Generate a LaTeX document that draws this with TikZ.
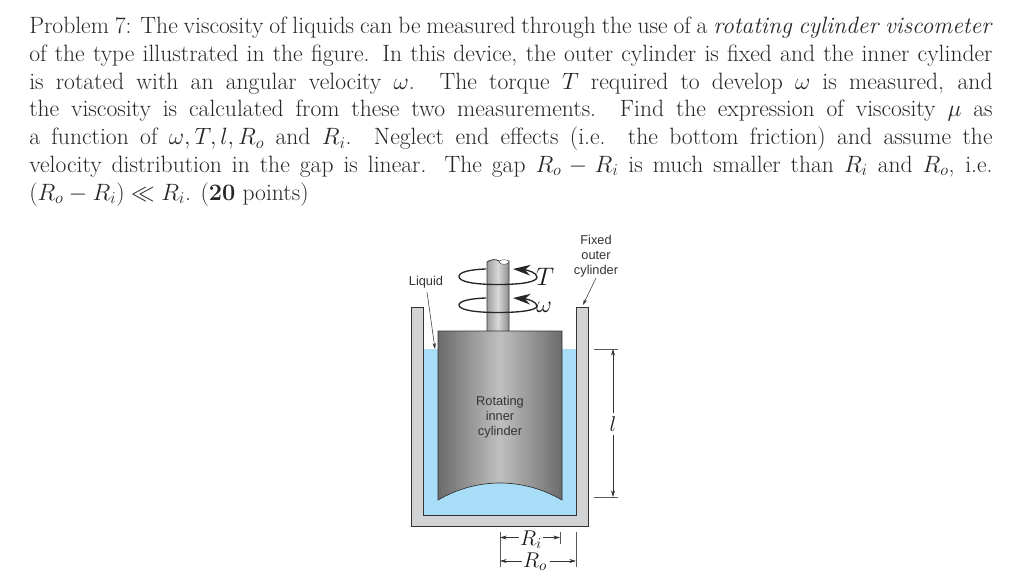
\documentclass[tikz,border=0pt]{standalone}
\usepackage{fontspec}
\usepackage{fix-cm}
\usetikzlibrary{arrows.meta}
\newfontfamily\labfont{Liberation Sans}
\newcommand{\fitline}[1]{\makebox[722.5pt][s]{#1}}
\definecolor{wallgray}{HTML}{D1D3D4}
\definecolor{liquidblue}{HTML}{A8DDF8}
\definecolor{outline}{HTML}{333333}
\definecolor{labelgray}{HTML}{333333}
\tikzset{
  textline/.style={anchor=base west,inner sep=0pt,font=\fontsize{17.7}{20}\selectfont,text=black!85},
  lab/.style={align=center,inner sep=0pt,font=\labfont\fontsize{9.6}{11.3}\selectfont,text=labelgray},
  wall/.style={fill=wallgray,draw=outline,line width=0.5pt},
  ring/.style={draw=black!85,line width=1pt,-{Stealth[length=13pt,width=8pt,inset=4pt]}},
  leader/.style={draw=outline,line width=0.4pt,-{Stealth[length=4.5pt,width=2.6pt]}},
  dimline/.style={draw=gray!70!black,line width=0.5pt},
  dimarrow/.style={draw=outline,line width=0.45pt,-{Stealth[length=5pt,width=3pt]}},
  mathlab/.style={inner sep=0pt,font=\fontsize{16}{19}\selectfont,text=black!90},
}
\begin{document}
\begin{tikzpicture}[x=0.75pt,y=-0.75pt]
\useasboundingbox (0,0) rectangle (1024,585);
% text
\node[textline] (t1) at (29,34) {\fitline{Problem 7: The viscosity of liquids can be measured through the use of a \textit{rotating cylinder viscometer}}};
\node[textline] (t2) at (29,62) {\fitline{of the type illustrated in the figure. In this device, the outer cylinder is fixed and the inner cylinder}};
\node[textline] (t3) at (29,89.5) {\fitline{is rotated with an angular velocity $\omega$. The torque $T$ required to develop $\omega$ is measured, and}};
\node[textline] (t4) at (29,117) {\fitline{the viscosity is calculated from these two measurements. Find the expression of viscosity $\mu$ as}};
\node[textline] (t5) at (29,144.5) {\fitline{a function of $\omega,T,l,R_o$ and $R_i$. Neglect end effects (i.e. the bottom friction) and assume the}};
\node[textline] (t6) at (29,172) {\fitline{velocity distribution in the gap is linear. The gap $R_o-R_i$ is much smaller than $R_i$ and $R_o$, i.e.}};
\node[textline] (t7) at (29,200) {$(R_o-R_i)\ll R_i$. (\textbf{20} points)};
% container
\path[wall] (411,307) -- (423,307) -- (423,515) -- (576,515) -- (576,307) -- (588,307) -- (588,526) -- (411,526) -- cycle;
\fill[liquidblue] (423.3,349) rectangle (575.7,514.7);
\draw[outline,line width=0.5pt] (423,349) -- (423,515) -- (576,515) -- (576,349);
% shaft
\path[left color=black!38,right color=black!45,middle color=black!15,draw=outline,line width=0.6pt]
  (487,332) -- (487,262) .. controls (491,259) and (496,259) .. (499,261) .. controls (503,264) and (506,263) .. (509,261) -- (509,332) -- cycle;
\fill[white,draw=outline,line width=0.3pt] (504,262) ellipse (5 and 2.3);
% rings
\draw[ring] (486,269) .. controls (470,269.5) and (459,272) .. (459,276.5) .. controls (459,282) and (475,284.5) .. (498,284.5) .. controls (522,284.5) and (537,282) .. (537,277) .. controls (537,273) and (528,270) .. (513,269);
\draw[ring] (486,298) .. controls (470,298.5) and (459,301) .. (459,305) .. controls (459,310) and (475,312.5) .. (498,312.5) .. controls (522,312.5) and (537,310) .. (537,306) .. controls (537,302) and (528,299) .. (513,298);
% inner cylinder
\path[left color=black!58,right color=black!58,middle color=black!25,draw=outline,line width=0.5pt]
  (438,331) -- (562,331) -- (562,500) .. controls (543,489) and (522,483) .. (500,483) .. controls (478,483) and (457,489) .. (438,500) -- cycle;
% labels
\node[lab] (liq) at (426,282) {Liquid};
\node[lab] (fix) at (596,256) {Fixed\\outer\\cylinder};
\node[lab] (rot) at (500,417) {Rotating\\inner\\cylinder};
\node[mathlab,font=\fontsize{19}{22}\selectfont] (T) at (545,277) {$T$};
\node[mathlab,font=\fontsize{18}{22}\selectfont] (w) at (544,307) {$\omega$};
\coordinate (liqtip) at (435,349);
\coordinate (fixtip) at (583,305);
\draw[leader] (427,292) -- (liqtip);
\draw[leader] (596,278) -- (fixtip);
% l dimension
\coordinate (ltop) at (613,349);
\coordinate (lbot) at (613,497);
\node[mathlab] (ell) at (613,424) {$l$};
\draw[dimline] (594,349) -- (618,349);
\draw[dimline] (594,497) -- (618,497);
\draw[dimarrow] (ell) ++(0,-11) -- (ltop);
\draw[dimarrow] (ell) ++(0,11) -- (lbot);
% R dimensions
\draw[dimline] (500,532) -- (500,567);
\draw[dimline] (560,532) -- (560,544);
\draw[dimline] (576,532) -- (576,567);
\coordinate (ril) at (500,537.5);
\coordinate (rir) at (560,537.5);
\coordinate (rol) at (500,561);
\coordinate (ror) at (576,561);
\node[mathlab] (Ri) at (531,539.5) {$R_i$};
\node[mathlab] (Ro) at (535,561.5) {$R_o$};
\draw[dimarrow] (Ri.west) ++(-1,-2) -- (ril);
\draw[dimarrow] (Ri.east) ++(1,-2) -- (rir);
\draw[dimarrow] (Ro.west) ++(-1,-0.5) -- (rol);
\draw[dimarrow] (Ro.east) ++(3,-0.5) -- (ror);
\end{tikzpicture}
\end{document}
